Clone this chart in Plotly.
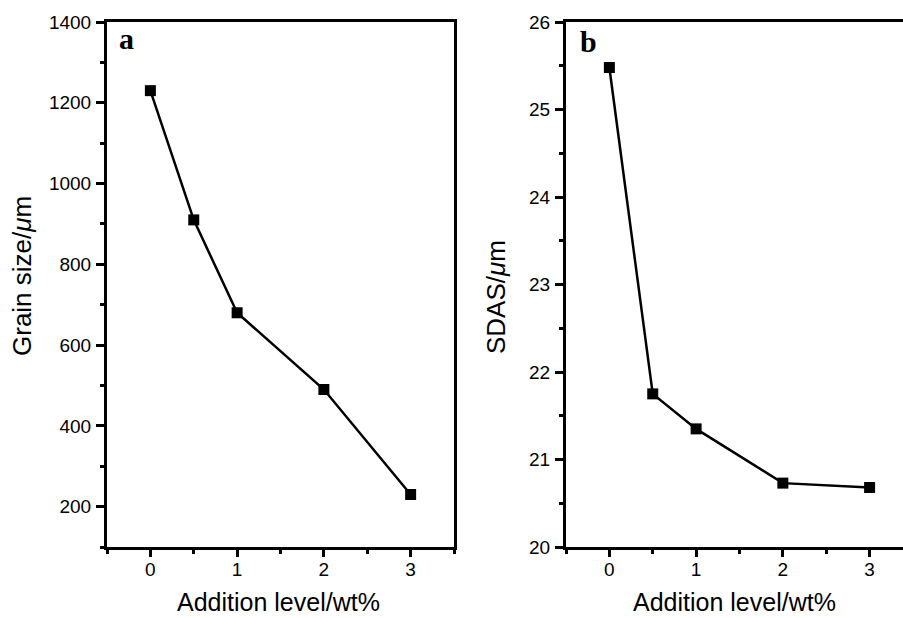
import plotly.graph_objects as go

# Data
addition_level = [0, 0.5, 1, 2, 3]
grain_size = [1230, 910, 680, 490, 230]
sdas = [25.48, 21.75, 21.35, 20.73, 20.68]

x_title = "Addition level/wt%"
ya_title = "Grain size/<i>μ</i>m"
yb_title = "SDAS/<i>μ</i>m"

W, H = 903, 618
FONT = "Liberation Sans, Arial, sans-serif"

fig = go.Figure()
line_style = dict(color="black", width=2.5)
marker_style = dict(symbol="square", size=11, color="black")

fig.add_trace(go.Scatter(x=addition_level, y=grain_size, mode="lines+markers",
                         line=line_style, marker=marker_style, xaxis="x", yaxis="y",
                         showlegend=False))
fig.add_trace(go.Scatter(x=addition_level, y=sdas, mode="lines+markers",
                         line=line_style, marker=marker_style, xaxis="x2", yaxis="y2",
                         showlegend=False))

ydom = [71 / H, 596 / H]
common = dict(showgrid=False, zeroline=False, showline=True, linecolor="black",
              linewidth=3, ticks="outside", tickcolor="black", tickwidth=2.5,
              automargin=False,
              tickfont=dict(family=FONT, size=19, color="black"))
minor_common = dict(ticklen=4, tickwidth=2.5, tickcolor="black", ticks="outside")

fig.update_layout(
    width=W, height=H,
    margin=dict(l=0, r=0, t=0, b=0, autoexpand=False),
    paper_bgcolor="white", plot_bgcolor="white",
    xaxis=dict(domain=[107 / W, 454 / W], range=[-0.5, 3.5], anchor="y",
               tickmode="linear", tick0=0, dtick=1, ticklen=7, mirror=True,
               ticklabelstandoff=-4,
               minor=dict(dtick=0.5, tick0=0, **minor_common),
               **common),
    yaxis=dict(domain=ydom, range=[100, 1400], anchor="x",
               tickmode="linear", tick0=200, dtick=200, ticklen=8, mirror=True,
               ticklabelstandoff=1,
               minor=dict(dtick=100, tick0=100, **minor_common),
               **common),
    xaxis2=dict(domain=[566 / W, 1.0], range=[-0.5, 3.385], anchor="y2",
                tickmode="linear", tick0=0, dtick=1, ticklen=7, mirror=True,
                ticklabelstandoff=-4,
                minor=dict(dtick=0.5, tick0=0, **minor_common),
                **common),
    yaxis2=dict(domain=ydom, range=[20, 26], anchor="x2",
                tickmode="linear", tick0=20, dtick=1, ticklen=8, mirror=False,
                ticklabelstandoff=1,
                minor=dict(dtick=0.5, tick0=20, **minor_common),
                **common),
)

annots = [
    dict(text=x_title, x=278 / W, y=1 - 602 / H, font=dict(family=FONT, size=25, color="black")),
    dict(text=x_title, x=734 / W, y=1 - 602 / H, font=dict(family=FONT, size=25, color="black")),
    dict(text=ya_title, x=22 / W, y=1 - 276 / H, textangle=-90, font=dict(family=FONT, size=26, color="black")),
    dict(text=yb_title, x=496 / W, y=1 - 297 / H, textangle=-90, font=dict(family=FONT, size=26, color="black")),
    dict(text="<b>a</b>", x=126 / W, y=1 - 39 / H, font=dict(family="Liberation Serif, Times New Roman, serif", size=30, color="black")),
    dict(text="<b>b</b>", x=588 / W, y=1 - 41 / H, font=dict(family="Liberation Serif, Times New Roman, serif", size=30, color="black")),
]
for a in annots:
    fig.add_annotation(xref="paper", yref="paper", showarrow=False,
                       xanchor="center", yanchor="middle", **a)

fig.write_html("out.html", config={"displayModeBar": False},
               post_script="document.body.style.margin='0px';document.body.style.overflow='hidden';")
